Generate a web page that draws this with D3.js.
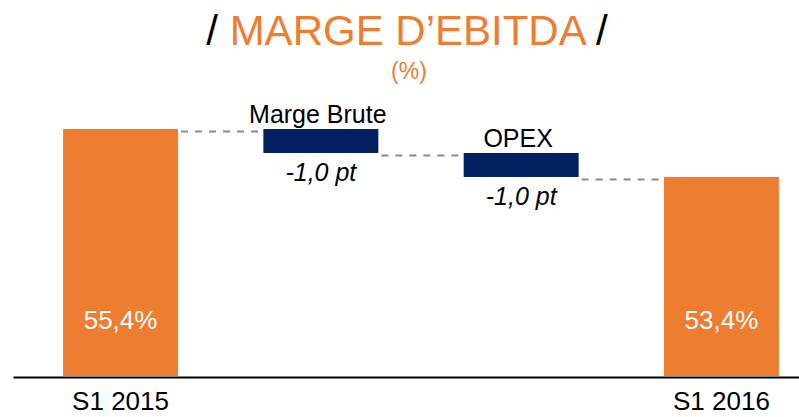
<!DOCTYPE html>
<html>
<head>
<meta charset="utf-8">
<script src="https://cdn.jsdelivr.net/npm/d3@7"></script>
<style>
  body { margin: 0; background: #fff; }
  text { font-family: "Liberation Sans", Arial, sans-serif; }
</style>
</head>
<body>
<script>
// waterfall data
const categories = ["S1 2015", "Marge Brute", "OPEX", "S1 2016"];
const values = [55.4, -1.0, -1.0, 53.4];
const kinds = ["total", "delta", "delta", "total"];
const valueLabels = ["55,4%", "-1,0 pt", "-1,0 pt", "53,4%"];
const axisLabels = ["S1 2015", "S1 2016"];

const colors = {
  orange: "#ED7D31",
  navy: "#002060",
  dash: "#8a8a8a"
};

const w = 799;
const h = 417;

// running totals -> start / end of each bar
let running = 0;
const steps = categories.map((c, i) => {
  let start, end;
  if (kinds[i] === "total") {
    start = 0;
    end = values[i];
    running = values[i];
  } else {
    start = running;
    end = running + values[i];
    running = end;
  }
  return { name: c, kind: kinds[i], start, end, label: valueLabels[i] };
});

const xScale = d3.scaleBand()
  .domain(categories)
  .range([13, 829])
  .paddingInner(0.426)
  .paddingOuter(0.25);

// axis is broken, does not start at 0
const yScale = d3.scaleLinear()
  .domain([45.1, 55.4])
  .range([376, 129]);

const y = v => yScale(Math.max(v, yScale.domain()[0]));

const svg = d3.select("body")
  .append("svg")
  .attr("width", w)
  .attr("height", h);

// title
const title = svg.append("text")
  .attr("x", 407)
  .attr("y", 45)
  .attr("text-anchor", "middle")
  .attr("font-size", 42);
title.append("tspan").attr("fill", "#000").text("/ ");
title.append("tspan").attr("fill", colors.orange).text("MARGE D\u2019EBITDA");
title.append("tspan").attr("fill", "#000").text(" /");

svg.append("text")
  .attr("x", 409)
  .attr("y", 79)
  .attr("text-anchor", "middle")
  .attr("font-size", 23)
  .attr("fill", colors.orange)
  .text("(%)");

// connectors
svg.selectAll("line.connector")
  .data(steps.slice(0, -1))
  .enter()
  .append("line")
  .attr("class", "connector")
  .attr("x1", d => xScale(d.name) + xScale.bandwidth() + 3)
  .attr("x2", (d, i) => xScale(categories[i + 1]) - 4)
  .attr("y1", d => y(d.end) + 2.5)
  .attr("y2", d => y(d.end) + 2.5)
  .attr("stroke", colors.dash)
  .attr("stroke-width", 2)
  .attr("stroke-dasharray", "7,7");

// bars
svg.selectAll("rect.bar")
  .data(steps)
  .enter()
  .append("rect")
  .attr("class", "bar")
  .attr("x", d => xScale(d.name))
  .attr("y", d => y(Math.max(d.start, d.end)))
  .attr("width", xScale.bandwidth())
  .attr("height", d => Math.abs(y(d.start) - y(d.end)))
  .attr("fill", d => d.kind === "total" ? colors.orange : colors.navy);

// value labels
const totals = steps.filter(d => d.kind === "total");
const deltas = steps.filter(d => d.kind === "delta");

svg.selectAll("text.total")
  .data(totals)
  .enter()
  .append("text")
  .attr("class", "total")
  .attr("x", d => xScale(d.name) + xScale.bandwidth() / 2)
  .attr("y", d => y(d.start) - 47)
  .attr("text-anchor", "middle")
  .attr("font-size", 26)
  .attr("fill", "#fff")
  .text(d => d.label);

svg.selectAll("text.dname")
  .data(deltas)
  .enter()
  .append("text")
  .attr("class", "dname")
  .attr("x", d => xScale(d.name) + xScale.bandwidth() / 2 - 3)
  .attr("y", d => y(d.start) - 6)
  .attr("text-anchor", "middle")
  .attr("font-size", 25)
  .attr("fill", "#000")
  .text(d => d.name);

svg.selectAll("text.dval")
  .data(deltas)
  .enter()
  .append("text")
  .attr("class", "dval")
  .attr("x", d => xScale(d.name) + xScale.bandwidth() / 2)
  .attr("y", d => y(d.end) + 28)
  .attr("text-anchor", "middle")
  .attr("font-size", 25)
  .attr("font-style", "italic")
  .attr("fill", "#000")
  .text(d => d.label);

// x axis
const xAxis = d3.axisBottom(xScale)
  .tickValues(axisLabels)
  .tickSize(0)
  .tickSizeOuter(0)
  .tickPadding(15);

svg.append("g")
  .attr("transform", "translate(0," + 377 + ")")
  .call(xAxis)
  .call(g => g.select(".domain").attr("stroke", "#000").attr("stroke-width", 2))
  .call(g => g.selectAll(".tick text")
    .attr("font-size", 26)
    .attr("font-family", "'Liberation Sans', Arial, sans-serif")
    .attr("fill", "#000"));
</script>
</body>
</html>
